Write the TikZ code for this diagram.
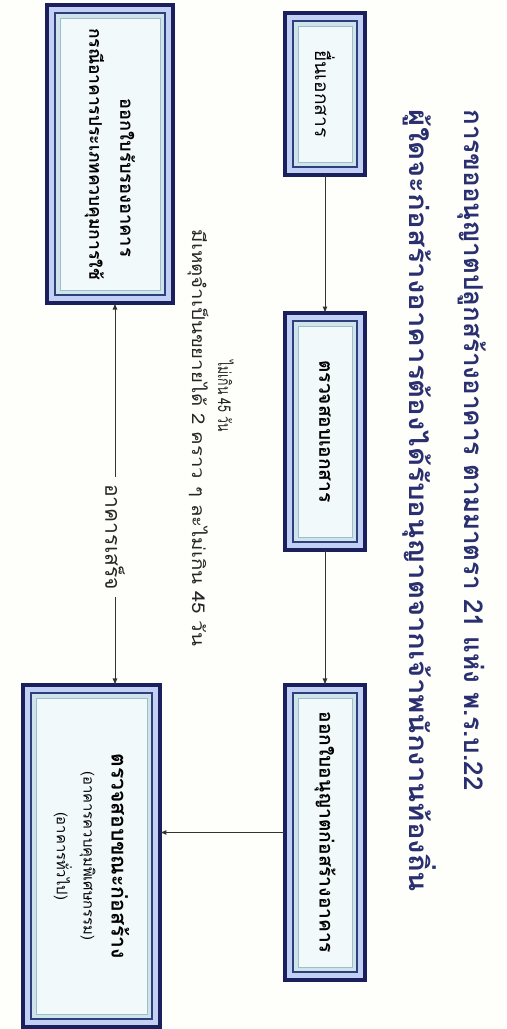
\documentclass[tikz,border=0pt]{standalone}
\usepackage{fontspec}
\newfontfamily\thaifont[Script=Thai]{Loma}
\usetikzlibrary{backgrounds}
\definecolor{navy}{HTML}{1B1F5C}
\definecolor{bandblue}{HTML}{C3D0F5}
\definecolor{ringline}{HTML}{2E3F7A}
\definecolor{greyband}{HTML}{CFE3EA}
\definecolor{coreline}{HTML}{9DBFCC}
\definecolor{corefill}{HTML}{F2F9FB}
\definecolor{titleblue}{HTML}{2A2F70}
\definecolor{paper}{HTML}{FEFEFA}
\begin{document}
\begin{tikzpicture}[x=0.025cm, y=0.025cm, rotate=-90, transform shape, >=latex, line join=round,
    bldbox/.style={inner sep=0pt, outer sep=0pt, align=center, text=black,
      font=\thaifont\bfseries\fontsize{13.6}{17}\selectfont},
    note/.style={inner sep=2pt, text=black!85, font=\thaifont\fontsize{12.5}{14}\selectfont},
    head/.style={inner sep=0pt, text=titleblue, font=\thaifont\bfseries\fontsize{18.5}{22}\selectfont},
    link/.style={->, draw=black!80, line width=0.6pt}]
  \useasboundingbox (0,0) rectangle (1029,506);
  % boxes
  \node[bldbox, minimum width=4.05cm, minimum height=2cm] (sub) at (94,325) {\mdseries ยื่นเอกสาร};
  \node[bldbox, minimum width=5.925cm, minimum height=2cm] (chk) at (431.5,325) {ตรวจสอบเอกสาร};
  \node[bldbox, minimum width=7.375cm, minimum height=2cm] (lic) at (832.5,325) {ออกใบอนุญาตก่อสร้างอาคาร};
  \node[bldbox, minimum width=8.55cm, minimum height=3.425cm] (insp) at (856,91.5)
    {\fontsize{15}{18}\selectfont ตรวจสอบขณะก่อสร้าง\\[3pt]{\mdseries\fontsize{10.5}{13}\selectfont (อาคารควบคุมพิเศษกรรม)}\\[2pt]{\mdseries\fontsize{10.5}{13}\selectfont (อาคารทั่วไป)}};
  \node[bldbox, minimum width=7.45cm, minimum height=3.15cm] (cert) at (154,110)
    {\fontsize{13}{16}\selectfont\hspace*{34pt}ออกใบรับรองอาคาร\\[5pt]{\fontsize{12.4}{16}\selectfont กรณีอาคารประเภทควบคุมการใช้}};
  % title and notes
  \node[head] (t1) at (450,472) {การขออนุญาตปลูกสร้างอาคาร ตามมาตรา 21 แห่ง พ.ร.บ.22};
  \node[head] (t2) at (501,419) {\scalebox{1.13}[1]{ผู้ใดจะก่อสร้างอาคารต้องได้รับอนุญาตจากเจ้าพนักงานท้องถิ่น}};
  \node[note] (d45) at (396,226) {\scalebox{0.7}[1]{ไม่เกิน 45 วัน}};
  \node[note] (ext) at (438,198) {\scalebox{1.16}[1]{มีเหตุจำเป็นขยายได้ 2 คราว ๆ ละไม่เกิน 45 วัน}};
  \node[note, inner sep=5pt, font=\thaifont\fontsize{15}{17}\selectfont] (done) at (537,115) {อาคารเสร็จ};
  % connectors
  \draw[link] (sub) -- (chk);
  \draw[link] (chk) -- (lic);
  \draw[link] (lic.south) -- (lic.south |- insp.north);
  \draw[link] (done.west) -- (done -| cert.east);
  \draw[link] (done.east) -- (done -| insp.west);
  \begin{scope}[on background layer]
    \fill[paper] (0,0) rectangle (1029,506);
    \foreach \b in {sub,chk,lic,insp,cert}{
      \draw[navy, line width=2.4pt, fill=bandblue] (\b.south west) rectangle (\b.north east);
      \draw[ringline, line width=0.8pt, fill=greyband] ([shift={(8,8)}]\b.south west) rectangle ([shift={(-8,-8)}]\b.north east);
      \draw[coreline, line width=0.5pt, fill=corefill] ([shift={(13,13)}]\b.south west) rectangle ([shift={(-13,-13)}]\b.north east);
    }
  \end{scope}
\end{tikzpicture}
\end{document}
